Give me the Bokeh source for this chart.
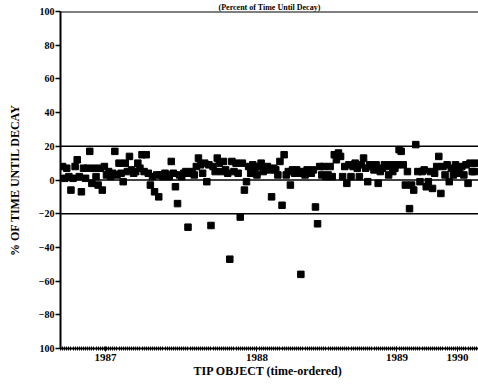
from bokeh.plotting import figure
from bokeh.models import Range1d, FixedTicker, Span
from bokeh.embed import file_html
from bokeh.resources import INLINE

# time-ordered TIP objects (object number) and % of time until decay error
obj = list(range(1, 200))
pct = [8, 1, 7, 2, -6, 1, 8, 12, 2, -7,
       7, 1, 7, 17, -2, 7, 2, -3, 7, -6,
       8, 3, 5, 2, 4, 17, 3, 10, 4, -1,
       10, 5, 14, 6, 4, 5, 10, 7, 15, 5,
       15, 4, -3, 2, -7, 3, -10, 3, 2, 4,
       3, 2, 11, 4, -4, -14, 3, 2, 4, 5,
       -28, 4, 5, 3, 8, 13, 9, 4, 10, -1,
       9, -27, 8, 5, 13, 10, 5, 11, 6, 4,
       -47, 11, 5, 10, 4, -22, 10, -6, -1, 8,
       4, 9, 7, 3, 8, 10, 5, 7, 8, 6,
       -10, 7, 6, 3, 11, -15, 15, 3, 5, -3,
       6, 4, 6, 4, -56, 5, 3, 6, 5, 4,
       6, -16, -26, 8, 3, 8, 2, 3, 8, 2,
       15, 12, 16, 14, 2, 8, -2, 9, 2, 8,
       10, 7, 2, 9, 13, 7, -1, 9, 8, 6,
       9, -2, 5, 7, 9, 8, 3, 9, 5, 7,
       9, 18, 17, 9, -3, 5, -17, -3, -6, 21,
       5, -1, 5, 6, -4, -1, 5, -5, 4, 8,
       14, -8, 8, 3, 9, -1, 7, 3, 9, 7,
       4, 8, 3, 9, -2, 10, 5, 5, 10]

year_pos = [21.5, 94, 161, 190]
year_lab = ["1987", "1988", "1989", "1990"]
y_ticks = [-100, -80, -60, -40, -20, 0, 20, 40, 60, 80, 100]
ref_lines = [20, 0, -20]
title_text = "(Percent of Time Until Decay)"

SERIF = "Liberation Serif"

p = figure(width=478, height=385, output_backend="svg", toolbar_location=None,
           x_range=Range1d(0, 200), y_range=Range1d(-100, 100),
           min_border_left=60, min_border_right=0, min_border_top=0, min_border_bottom=37,
           title=title_text)
p.title.align = "center"
p.title.offset = -12
p.title.text_font = SERIF
p.title.text_font_style = "bold"
p.title.text_font_size = "8px"
p.title.text_color = "black"
p.title.standoff = 0
p.outline_line_color = None
p.xgrid.visible = False
p.ygrid.visible = False
p.background_fill_color = "white"

for v in ref_lines:
    p.add_layout(Span(location=v, dimension="width", line_color="black", line_width=1.6))
p.add_layout(Span(location=100, dimension="width", line_color="black", line_width=2))

p.scatter(obj, pct, marker="square", size=6.5, fill_color="black", line_color="black")

# y axis
ya = p.yaxis[0]
ya.ticker = FixedTicker(ticks=y_ticks)
ya.major_label_overrides = {-100: "100"}
ya.axis_label = "% OF TIME UNTIL DECAY"
ya.axis_label_text_font = SERIF
ya.axis_label_text_font_style = "bold"
ya.axis_label_text_font_size = "12px"
ya.axis_label_text_color = "black"
ya.axis_label_standoff = 14
ya.major_label_text_font = SERIF
ya.major_label_text_font_style = "bold"
ya.major_label_text_font_size = "10px"
ya.major_label_text_color = "black"
ya.major_label_standoff = 1
ya.major_tick_out = 5
ya.major_tick_in = 0
ya.minor_tick_out = 0
ya.minor_tick_in = 0
ya.axis_line_width = 2
ya.major_tick_line_width = 1.5

# x axis
xa = p.xaxis[0]
xa.ticker = FixedTicker(ticks=year_pos, minor_ticks=list(range(0, 201)))
xa.major_label_overrides = {t: l for t, l in zip(year_pos, year_lab)}
xa.axis_label = "TIP OBJECT  (time-ordered)"
xa.axis_label_text_font = SERIF
xa.axis_label_text_font_style = "bold"
xa.axis_label_text_font_size = "12px"
xa.axis_label_text_color = "black"
xa.axis_label_standoff = 0
xa.major_label_text_font = SERIF
xa.major_label_text_font_style = "bold"
xa.major_label_text_font_size = "11px"
xa.major_label_text_color = "black"
xa.major_label_standoff = 2
xa.major_tick_out = 3
xa.major_tick_in = 2
xa.minor_tick_out = 2
xa.minor_tick_in = 2
xa.axis_line_width = 2

open("out.html", "w").write(file_html(p, INLINE))
